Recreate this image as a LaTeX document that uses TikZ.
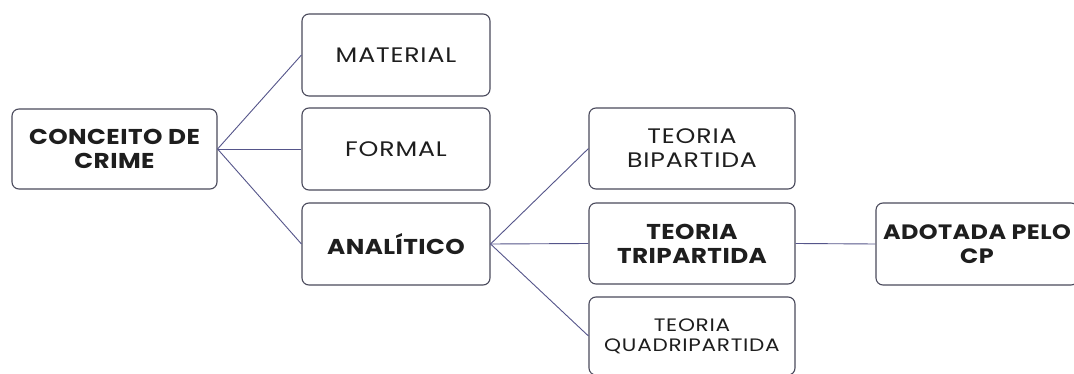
\documentclass[tikz,border=0pt]{standalone}
\usepackage{fontspec}
\setmainfont{Poppins}
\newfontfamily\largafonte[FakeStretch=1.2, LetterSpace=4]{Poppins}
\newfontfamily\fortefonte[FakeStretch=1.15, LetterSpace=2]{Poppins}
\definecolor{caixacor}{HTML}{4A4A5C}
\definecolor{linhacor}{HTML}{55558A}
\definecolor{textocor}{HTML}{1E1E1E}
\begin{document}
\begin{tikzpicture}[x=1pt, y=-1pt,
  caixa/.style={draw=caixacor, line width=1.1pt, rounded corners=7pt, fill=white,
    minimum width=188pt, minimum height=82pt, align=center, text=textocor,
    inner sep=0pt, font=\largafonte\fontsize{21}{24}\selectfont},
  forte/.style={caixa, font=\fortefonte\fontsize{21.5}{24}\selectfont\bfseries},
  ramo/.style={draw=linhacor, line width=0.9pt}]
\clip (0,0) rectangle (1074,374);
\useasboundingbox (0,0) rectangle (1074,374);
\fill[white] (0,0) rectangle (1074,374);
\node[forte, minimum width=205pt, minimum height=80pt] (conceito) at (114.5,149) {CONCEITO DE\\CRIME};
\node[caixa] (material) at (396,55) {MATERIAL};
\node[caixa] (formal) at (396,149) {FORMAL};
\node[forte] (analitico) at (396,244) {ANALÍTICO};
\node[caixa, minimum width=206pt, minimum height=81pt] (bipartida) at (692,148.5) {TEORIA\\BIPARTIDA};
\node[forte, minimum width=206pt, minimum height=81pt] (tripartida) at (692,243.5) {TEORIA\\TRIPARTIDA};
\node[caixa, minimum width=206pt, minimum height=78pt, font=\largafonte\fontsize{18}{20}\selectfont] (quadripartida) at (692,336) {TEORIA\\QUADRIPARTIDA};
\node[forte, minimum width=202pt, minimum height=82pt, font=\fortefonte\fontsize{20.8}{24}\selectfont\bfseries] (adotada) at (977,244) {ADOTADA PELO\\CP};
\draw[ramo] (conceito.east) -- (material.west);
\draw[ramo] (conceito.east) -- (formal.west);
\draw[ramo] (conceito.east) -- (analitico.west);
\draw[ramo] (analitico.east) -- (bipartida.west);
\draw[ramo] (analitico.east) -- (tripartida.west);
\draw[ramo] (analitico.east) -- (quadripartida.west);
\draw[ramo] (tripartida.east) -- (adotada.west);
\end{tikzpicture}
\end{document}
